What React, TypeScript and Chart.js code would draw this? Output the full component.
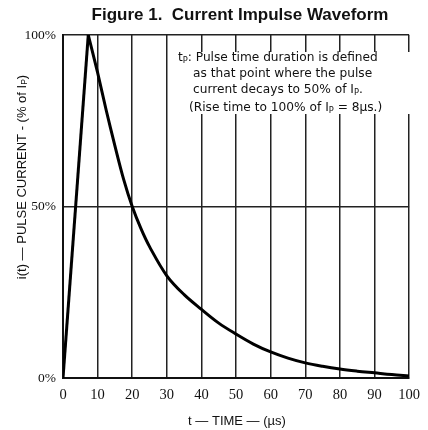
import React, { useEffect, useRef } from "react";
import { Chart, registerables } from "chart.js";

Chart.register(...registerables);

// rise (0 -> peak) and decay (peak -> 100 µs)
const riseTimeUs = [0, 7.3];
const risePct = [0, 100];
const decayTimeUs = [7.3, 10, 12.5, 15, 17.5, 20, 22.5, 25, 30, 35, 40, 45, 50, 55, 60, 65, 70, 75, 80, 85, 90, 95, 100];
const decayPct = [100, 89, 78, 67.7, 58, 50, 43.6, 38.3, 29.8, 24.3, 20, 16, 12.8, 9.9, 7.6, 5.8, 4.4, 3.4, 2.6, 2, 1.5, 1, 0.6];
const xTicks = [0, 10, 20, 30, 40, 50, 60, 70, 80, 90, 100];
const yTicks = [0, 50, 100];

const titleText = "Figure 1.  Current Impulse Waveform";
const xTitle = "t — TIME — (µs)";
const yTitle = "i(t) — PULSE CURRENT - (% of I";
const noteLines = [
  "Pulse time duration is defined",
  "as that point where the pulse",
  "current decays to 50% of I",
  "(Rise time to 100% of I",
];

const SANS = "'Liberation Sans', Arial, sans-serif";
const NOTE = "'DejaVu Sans', 'Liberation Sans', sans-serif";
const SERIF = "'Liberation Serif', 'Times New Roman', serif";

const annotations = {
  id: "annotations",
  beforeDatasetsDraw(chart: any) {
    const ctx = chart.ctx as CanvasRenderingContext2D;
    ctx.save();
    ctx.fillStyle = "#fff";
    ctx.fillRect(175, 52, 238, 62);
    ctx.fillStyle = "#111";
    ctx.textBaseline = "middle";
    ctx.textAlign = "left";
    const f = `12.2px ${NOTE}`;
    const fs = `8.3px ${NOTE}`;
    ctx.font = f;
    ctx.fillText("t", 178, 58);
    const w = ctx.measureText("t").width;
    ctx.font = fs;
    ctx.fillText("P", 178 + w, 61);
    const wp = ctx.measureText("P").width;
    ctx.font = f;
    ctx.fillText(": " + noteLines[0], 178 + w + wp, 58);
    ctx.fillText(noteLines[1], 193, 74);
    ctx.fillText(noteLines[2], 193, 90);
    const w3 = ctx.measureText(noteLines[2]).width;
    ctx.font = fs;
    ctx.fillText("P", 193 + w3, 93);
    const wp3 = ctx.measureText("P").width;
    ctx.font = f;
    ctx.fillText(".", 193 + w3 + wp3, 90);
    ctx.fillText(noteLines[3], 189, 108);
    const w4 = ctx.measureText(noteLines[3]).width;
    ctx.font = fs;
    ctx.fillText("P", 189 + w4, 111);
    const wp4 = ctx.measureText("P").width;
    ctx.font = f;
    ctx.fillText(" = 8µs.)", 189 + w4 + wp4, 108);
    ctx.restore();
  },
  afterDraw(chart: any) {
    const ctx = chart.ctx as CanvasRenderingContext2D;
    ctx.save();
    ctx.fillStyle = "#111";
    ctx.textAlign = "center";
    ctx.textBaseline = "middle";
    ctx.font = `bold 17px ${SANS}`;
    ctx.fillText(titleText, 240, 15);
    ctx.font = `13px ${SANS}`;
    ctx.fillText(xTitle, 237, 421);
    ctx.translate(22, 177);
    ctx.rotate(-Math.PI / 2);
    ctx.font = `13px ${SANS}`;
    const tw = ctx.measureText(yTitle).width;
    ctx.font = `8.5px ${SANS}`;
    const pw = ctx.measureText("P").width;
    ctx.font = `13px ${SANS}`;
    const cw = ctx.measureText(")").width;
    const total = tw + pw + cw;
    ctx.textAlign = "left";
    ctx.fillText(yTitle, -total / 2, 0);
    ctx.font = `8.5px ${SANS}`;
    ctx.fillText("P", -total / 2 + tw, 3);
    ctx.font = `13px ${SANS}`;
    ctx.fillText(")", -total / 2 + tw + pw, 0);
    ctx.restore();
  },
};

const lineStyle = {
  borderColor: "#000",
  borderWidth: 3,
  pointRadius: 0,
  fill: false,
  borderJoinStyle: "miter" as const,
};

export default function App() {
  const ref = useRef<HTMLCanvasElement>(null);
  useEffect(() => {
    document.body.style.margin = "0";
    const chart = new Chart(ref.current!, {
      type: "line",
      data: {
        datasets: [
          {
            ...lineStyle,
            data: riseTimeUs.map((t, i) => ({ x: t, y: risePct[i] })),
            tension: 0,
          },
          {
            ...lineStyle,
            data: decayTimeUs.map((t, i) => ({ x: t, y: decayPct[i] })),
            tension: 0.35,
          },
        ],
      },
      options: {
        animation: false,
        responsive: false,
        layout: { padding: { left: 0, right: 13, top: 35, bottom: 0 } },
        plugins: { legend: { display: false }, tooltip: { enabled: false }, title: { display: false } },
        scales: {
          x: {
            type: "linear",
            min: 0,
            max: 100,
            afterBuildTicks: (s: any) => {
              s.ticks = xTicks.map((v) => ({ value: v }));
            },
            afterFit: (s: any) => {
              s.height = 52;
            },
            grid: { color: "#222", lineWidth: 1.5, drawTicks: false },
            border: { color: "#111", width: 2 },
            ticks: { color: "#111", font: { family: SERIF, size: 14.5 }, padding: 8, maxRotation: 0 },
          },
          y: {
            type: "linear",
            min: 0,
            max: 100,
            afterBuildTicks: (s: any) => {
              s.ticks = yTicks.map((v) => ({ value: v }));
            },
            afterFit: (s: any) => {
              s.width = 63;
            },
            grid: { color: "#222", lineWidth: 1.5, drawTicks: false },
            border: { color: "#111", width: 2 },
            ticks: {
              color: "#111",
              font: { family: SERIF, size: 13.5 },
              padding: 7,
              callback: (v: any) => v + "%",
            },
          },
        },
      },
      plugins: [annotations],
    });
    return () => chart.destroy();
  }, []);
  return (
    <div style={{ width: 428, height: 430, background: "#fff" }}>
      <canvas ref={ref} width={428} height={430} style={{ display: "block" }} />
    </div>
  );
}
